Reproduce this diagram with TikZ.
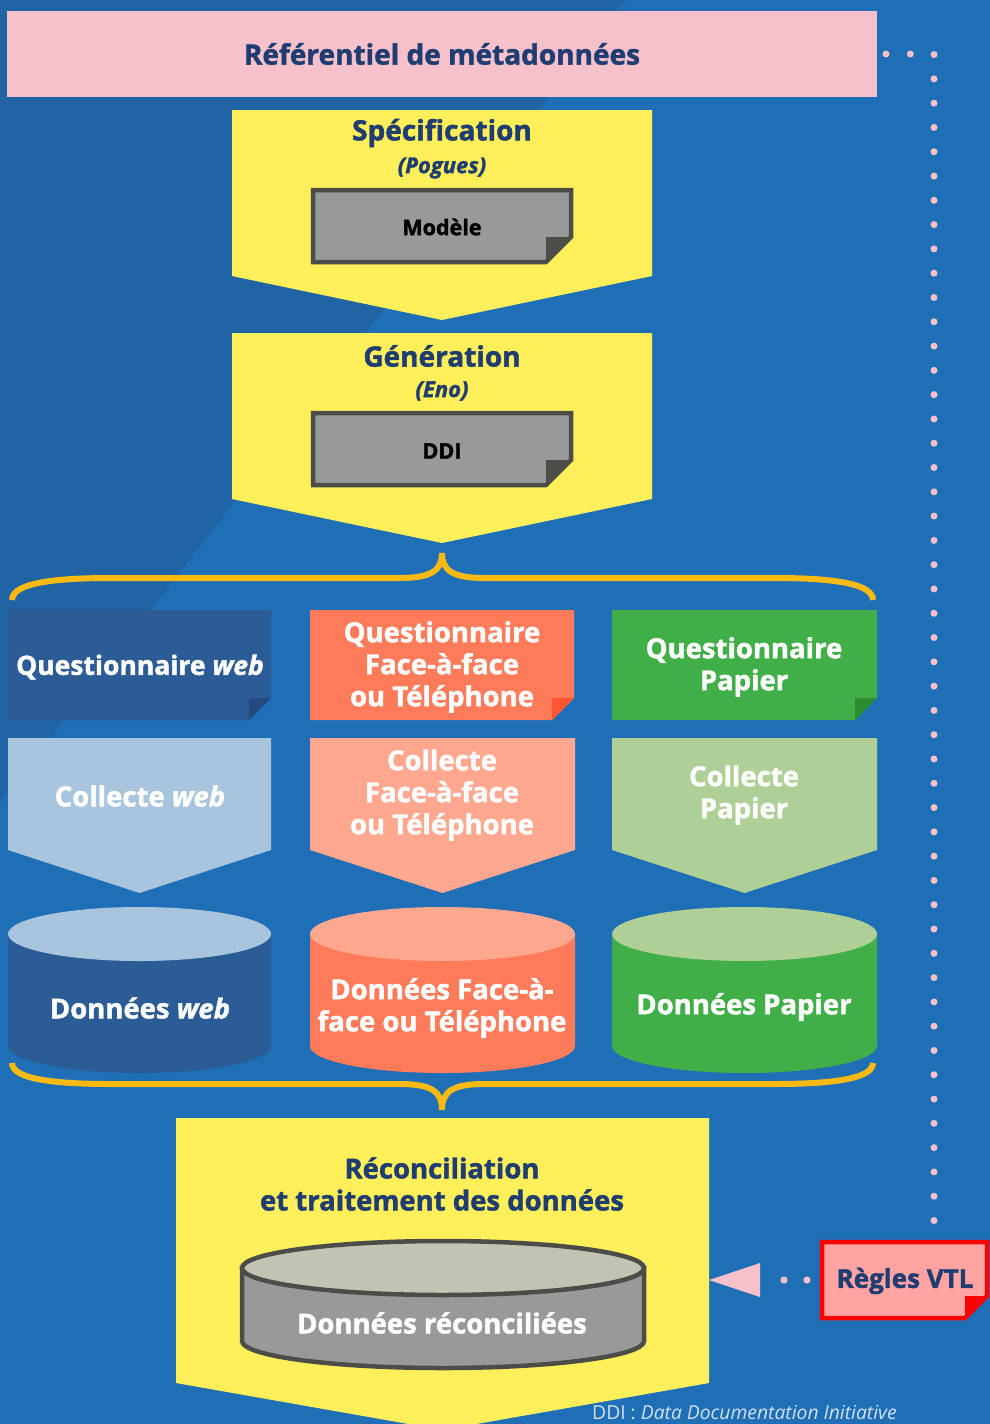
\documentclass[tikz,border=0pt]{standalone}
\usepackage{fontspec}
\setmainfont{Open Sans}[BoldFeatures={FakeBold=1.6}, BoldItalicFeatures={FakeBold=1.6}]
\newfontfamily\regfont{Open Sans}
\definecolor{bglight}{HTML}{1F6FB7}
\definecolor{bgdark}{HTML}{2064A5}
\definecolor{bandpink}{HTML}{F7C1CB}
\definecolor{navy}{HTML}{1F3D70}
\definecolor{yel}{HTML}{FFEF5A}
\definecolor{grayfill}{HTML}{999999}
\definecolor{grayedge}{HTML}{4C4C48}
\definecolor{graytop}{HTML}{C2C3B3}
\definecolor{webdark}{HTML}{2B5C96}
\definecolor{webfold}{HTML}{244A80}
\definecolor{weblight}{HTML}{A9C5DD}
\definecolor{facedark}{HTML}{FF7B5A}
\definecolor{facefold}{HTML}{FF5533}
\definecolor{facelight}{HTML}{FFA78F}
\definecolor{papdark}{HTML}{41AF48}
\definecolor{papfold}{HTML}{2E8B32}
\definecolor{paplight}{HTML}{AECF95}
\definecolor{bracecol}{HTML}{FBBA12}
\definecolor{rulefill}{HTML}{FFA3A3}
\definecolor{rulered}{HTML}{FF0000}
\definecolor{foot}{HTML}{D4E0F0}
% folded box: x1 y1 x2 y2 fold fillopts foldopts
\newcommand\myfold[7]{%
  \path[#6] (#1,#2) -- (#3,#2) -- (#3,#4-#5) -- (#3-#5,#4) -- (#1,#4) -- cycle;
  \path[#7] (#3-#5,#4-#5) -- (#3,#4-#5) -- (#3-#5,#4) -- cycle;}
% chevron: x1 top x2 side tip colour
\newcommand\mychev[6]{%
  \fill[#6] (#1,#2) -- (#3,#2) -- (#3,#4) -- ({(#1+#3)/2},#5) -- (#1,#4) -- cycle;}
% cylinder: x1 x2 topcy botcy ry bodyopts topopts
\newcommand\mycyl[7]{%
  \pgfmathsetmacro\cyCx{(#1+#2)/2}%
  \pgfmathsetmacro\cyRx{(#2-#1)/2}%
  \pgfmathsetmacro\cyK{0.5523*#5}%
  \pgfmathsetmacro\cyKx{0.5523*\cyRx}%
  \path[#6] (#1,#3) -- (#1,#4) .. controls (#1,#4+\cyK) and (\cyCx-\cyKx,#4+#5) .. (\cyCx,#4+#5)
     .. controls (\cyCx+\cyKx,#4+#5) and (#2,#4+\cyK) .. (#2,#4) -- (#2,#3) -- cycle;
  \path[#7] (\cyCx,#3) ellipse [x radius=\cyRx pt, y radius=#5 pt];}
\tikzset{
  lbl/.style={inner sep=0pt, outer sep=0pt, align=center, font=\bfseries\fontsize{27.5}{32}\selectfont},
  wlbl/.style={lbl, text=white},
  nlbl/.style={lbl, text=navy},
  ttl/.style={nlbl, font=\bfseries\fontsize{28}{32}\selectfont},
  sublbl/.style={inner sep=0pt, text=navy, font=\bfseries\itshape\fontsize{22}{24}\selectfont},
  doclbl/.style={inner sep=0pt, text=black, font=\bfseries\fontsize{21.5}{24}\selectfont},
  bracepath/.style={draw=bracecol, line width=6pt},
  dotline/.style={draw=bandpink, line width=7pt, line cap=round, dash pattern=on 0pt off 24.29pt},
}
\begin{document}
\begin{tikzpicture}[x=1pt,y=-1pt]
\useasboundingbox (0,0) rectangle (990,1424);
\clip (0,0) rectangle (990,1424);
% background
\fill[bglight] (0,0) rectangle (990,1424);
\fill[bgdark] (0,0) -- (625,0) -- (0,803) -- cycle;

% metadata repository band
\fill[bandpink] (7,11) rectangle (877,97);
\node[ttl] (ref) at (442,54) {Référentiel de métadonnées};
\coordinate (dotstart) at (886,54);
\coordinate (dotcorner) at (934,54);
\coordinate (dotend) at (934,1222);

% Specification
\mychev{232}{110}{652}{276}{320}{yel}
\node[ttl] (spec) at (442,133) {Spécification};
\node[sublbl] (pogues) at (442,168) {(Pogues)};
\myfold{313}{190}{571}{262}{25}{fill=grayfill, draw=grayedge, line width=4.5pt, line join=miter}{fill=grayedge}
\node[doclbl] (modele) at (442,227) {Modèle};

% Generation
\mychev{232}{333}{652}{499}{543}{yel}
\node[ttl] (gen) at (442,356) {Génération};
\node[sublbl] (eno) at (442,391) {(Eno)};
\myfold{313}{413}{571}{485}{25}{fill=grayfill, draw=grayedge, line width=4.5pt, line join=miter}{fill=grayedge}
\node[doclbl] (ddi) at (442,451) {DDI};

% top brace
\coordinate (tbl) at (12,600);
\coordinate (tbtip) at (442,553);
\coordinate (tbr) at (873,600);
\draw[bracepath] (tbl) .. controls (12,582) and (60,578) .. (110,578) -- (400,578)
  .. controls (432,578) and (442,570) .. (tbtip)
  .. controls (442,570) and (452,578) .. (484,578) -- (775,578)
  .. controls (825,578) and (873,582) .. (tbr);

% row 1 : questionnaires
\myfold{8}{610}{271}{720}{22}{fill=webdark}{fill=webfold}
\node[wlbl, font=\bfseries\fontsize{26.5}{32}\selectfont] (qweb) at (140,667) {Questionnaire \textit{web}};
\myfold{310}{610}{574}{720}{22}{fill=facedark}{fill=facefold}
\node[wlbl] (qface) at (442,667) {Questionnaire\\Face-à-face\\ou Téléphone};
\myfold{612}{610}{877}{720}{22}{fill=papdark}{fill=papfold}
\node[wlbl] (qpap) at (744,667) {Questionnaire\\Papier};

% row 2 : collection
\mychev{8}{738}{271}{850}{893}{weblight}
\node[wlbl] (cweb) at (140,796) {Collecte \textit{web}};
\mychev{310}{738}{575}{850}{893}{facelight}
\node[wlbl] (cface) at (442,795) {Collecte\\Face-à-face\\ou Téléphone};
\mychev{612}{738}{877}{850}{893}{paplight}
\node[wlbl] (cpap) at (744,795) {Collecte\\Papier};

% row 3 : data
\mycyl{8}{271}{934}{1046}{27}{fill=webdark}{fill=weblight}
\node[wlbl] (dweb) at (140,1008) {Données \textit{web}};
\mycyl{310}{575}{934}{1046}{27}{fill=facedark}{fill=facelight}
\node[wlbl] (dface) at (442,1008) {Données Face-à-\\face ou Téléphone};
\mycyl{612}{877}{934}{1046}{27}{fill=papdark}{fill=paplight}
\node[wlbl] (dpap) at (744,1007) {Données Papier};

% bottom brace
\coordinate (bbl) at (12,1063);
\coordinate (bbtip) at (442,1110);
\coordinate (bbr) at (873,1063);
\draw[bracepath] (bbl) .. controls (12,1080) and (60,1084) .. (110,1084) -- (400,1084)
  .. controls (432,1084) and (442,1092) .. (bbtip)
  .. controls (442,1092) and (452,1084) .. (484,1084) -- (775,1084)
  .. controls (825,1084) and (873,1080) .. (bbr);

% reconciliation
\mychev{176}{1118}{709}{1383}{1430}{yel}
\node[nlbl] (recon) at (442,1184) {Réconciliation\\et traitement des données};
\mycyl{242}{644}{1268}{1341}{27}{fill=grayfill, draw=grayedge, line width=4.5pt}{fill=graytop, draw=grayedge, line width=4.5pt}
\node[wlbl] (drec) at (442,1323) {Données réconciliées};

% VTL rules
\myfold{822}{1242}{987}{1318}{22}{fill=rulefill, draw=rulered, line width=4.5pt, line join=miter}{fill=rulered}
\node[nlbl, font=\bfseries\fontsize{26}{32}\selectfont] (vtl) at (905,1281) {Règles VTL};
\fill[bandpink] (784,1280) circle (3.6pt);
\fill[bandpink] (807,1280) circle (3.6pt);
\coordinate (tri) at (709,1280);
\fill[bandpink] (tri) -- (760,1263) -- (760,1297) -- cycle;

% dotted link from repository
\draw[dotline] (dotstart) -- (dotcorner) -- (dotend);

% footnote
\node[anchor=base west, inner sep=0pt, text=foot, font=\regfont\fontsize{19.3}{22}\selectfont] (note) at (592,1419) {DDI : \textit{Data Documentation Initiative}};
\end{tikzpicture}
\end{document}
